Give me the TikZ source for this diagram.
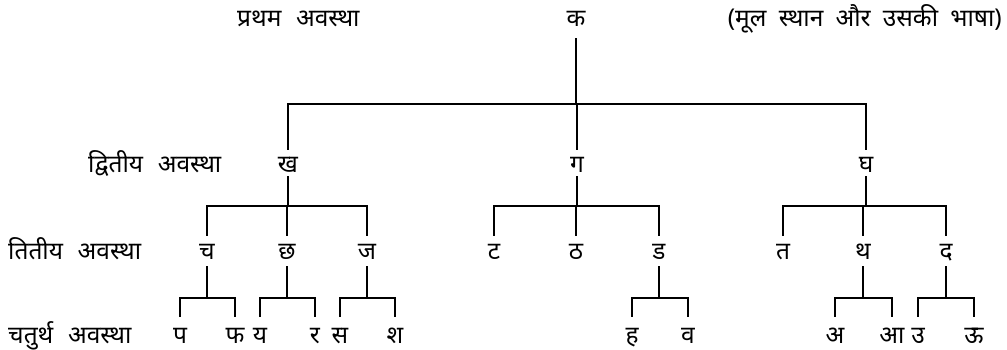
\documentclass[tikz,border=0pt]{standalone}
\usepackage{fontspec}
\setmainfont{Noto Sans}[Script=Devanagari]
\begin{document}
\begin{tikzpicture}[x=1pt,y=-1pt,
  lvl/.style={font=\fontsize{24.5}{28}\selectfont,inner sep=0pt,anchor=base,
              text height=23pt,text depth=7pt},
  leaf/.style={lvl,text height=26pt},
  stage/.style={font=\fontsize{24.5}{28}\selectfont,inner sep=0pt},
  branch/.style={line width=2.5pt,line cap=butt,line join=miter}]
\useasboundingbox (0,0) rectangle (1007,350);

% row captions
\node[stage,anchor=base west] (s1) at (237,27) {प्रथम\hspace{0.6em}अवस्था};
\node[stage,anchor=base west] (s2) at (88,173) {द्वितीय\hspace{0.6em}अवस्था};
\node[stage,anchor=base west] (s3) at (8,259) {तितीय\hspace{0.6em}अवस्था};
\node[stage,anchor=base west] (s4) at (8,343) {चतुर्थ\hspace{0.6em}अवस्था};
\node[stage,anchor=base east] (note) at (1002,27)
  {(मूल\hspace{0.5em}स्थान\hspace{0.5em}और\hspace{0.5em}उसकी\hspace{0.5em}भाषा)};

% level 1
\node[lvl,text depth=11pt] (k) at (576,27) {क};
% level 2
\node[lvl,text depth=3pt] (kh) at (288,173) {ख};
\node[lvl,text depth=3pt] (g)  at (577,173) {ग};
\node[lvl,text depth=3pt] (gh) at (866,173) {घ};
% level 3
\node[lvl] (c)   at (207,259) {च};
\node[lvl] (ch)  at (287,259) {छ};
\node[lvl] (j)   at (367,259) {ज};
\node[lvl] (tt)  at (494,259) {ट};
\node[lvl] (tth) at (576,259) {ठ};
\node[lvl] (dd)  at (659,259) {ड};
\node[lvl] (t)   at (783,259) {त};
\node[lvl] (th)  at (863,259) {थ};
\node[lvl] (d)   at (946,259) {द};
% level 4
\node[leaf] (p)  at (180,343) {प};
\node[leaf] (ph) at (235,343) {फ};
\node[leaf] (y)  at (260,343) {य};
\node[leaf] (r)  at (315,343) {र};
\node[leaf] (s)  at (340,343) {स};
\node[leaf] (sh) at (395,343) {श};
\node[leaf] (h)  at (632,343) {ह};
\node[leaf] (v)  at (688,343) {व};
\node[leaf] (a)  at (835,343) {अ};
\node[leaf] (aa) at (892,343) {आ};
\node[leaf] (u)  at (918,343) {उ};
\node[leaf] (uu) at (974,343) {ऊ};

% heights of the horizontal bars
\coordinate (b1) at (0,104);
\coordinate (b2) at (0,206);
\coordinate (b3) at (0,298);

% k -> kh, g, gh
\draw[branch] (k.south) -- (k.south |- b1);
\draw[branch] (kh.north) -- (kh.north |- b1) -- (gh.north |- b1) -- (gh.north);
\draw[branch] (g.north) -- (g.north |- b1);

% kh -> c, ch, j
\draw[branch] (kh.south) -- (kh.south |- b2);
\draw[branch] (c.north) -- (c.north |- b2) -- (j.north |- b2) -- (j.north);
\draw[branch] (ch.north) -- (ch.north |- b2);
% g -> tt, tth, dd
\draw[branch] (g.south) -- (g.south |- b2);
\draw[branch] (tt.north) -- (tt.north |- b2) -- (dd.north |- b2) -- (dd.north);
\draw[branch] (tth.north) -- (tth.north |- b2);
% gh -> t, th, d
\draw[branch] (gh.south) -- (gh.south |- b2);
\draw[branch] (t.north) -- (t.north |- b2) -- (d.north |- b2) -- (d.north);
\draw[branch] (th.north) -- (th.north |- b2);

% level 3 -> level 4 pairs
\foreach \up/\lft/\rgt in {c/p/ph, ch/y/r, j/s/sh, dd/h/v, th/a/aa, d/u/uu}{
  \draw[branch] (\up.south) -- (\up.south |- b3);
  \draw[branch] (\lft.north) -- (\lft.north |- b3) -- (\rgt.north |- b3) -- (\rgt.north);
}
\end{tikzpicture}
\end{document}
